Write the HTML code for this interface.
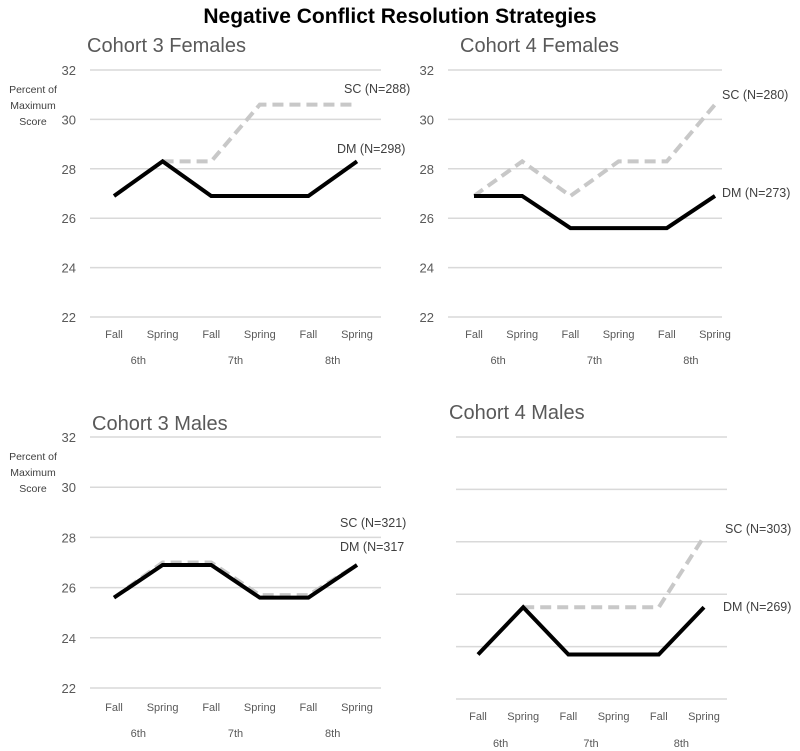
<!DOCTYPE html>
<html><head><meta charset="utf-8"><style>
body{margin:0;background:#fff;}
svg{display:block;font-family:"Liberation Sans",sans-serif;}
</style></head><body>
<svg id="c" width="800" height="751" viewBox="0 0 800 751">
<text x="400" y="23" text-anchor="middle" font-size="21" font-weight="bold" fill="#000">Negative Conflict Resolution Strategies</text>
</svg>
<script>
const terms = ["Fall","Spring","Fall","Spring","Fall","Spring"];
const grades = ["6th","7th","8th"];
const yTicks = [22,24,26,28,30,32];
const c3fDM = [26.9,28.3,26.9,26.9,26.9,28.3];
const c3fSC = [26.9,28.3,28.3,30.6,30.6,30.6];
const c4fDM = [26.9,26.9,25.6,25.6,25.6,26.9];
const c4fSC = [26.9,28.3,26.9,28.3,28.3,30.6];
const c3mDM = [25.6,26.9,26.9,25.6,25.6,26.9];
const c3mSC = [25.6,27.0,27.0,25.7,25.7,26.9];
const c4mDM = [23.7,25.5,23.7,23.7,23.7,25.5];
const c4mSC = [23.7,25.5,25.5,25.5,25.5,28.2];

const NS="http://www.w3.org/2000/svg";
const svg=document.getElementById('c');
function mk(tag,attrs,parent){const e=document.createElementNS(NS,tag);for(const k in attrs)e.setAttribute(k,attrs[k]);(parent||svg).appendChild(e);return e;}

const panels=[
 {key:"c3f",title:"Cohort 3 Females",tx:87,ty:52,gx0:90,gx1:381,y32:70,y22:317,x0:114,dx:48.6,ticks:true,yl:true,dm:c3fDM,sc:c3fSC,scL:"SC (N=288)",dmL:"DM (N=298)",scLx:344,scLy:93,dmLx:337,dmLy:153,xly:338,gly:364,scFrom:1},
 {key:"c4f",title:"Cohort 4 Females",tx:460,ty:52,gx0:448,gx1:722,y32:70,y22:317,x0:474,dx:48.2,ticks:true,yl:false,dm:c4fDM,sc:c4fSC,scL:"SC (N=280)",dmL:"DM (N=273)",scLx:722,scLy:99,dmLx:722,dmLy:197,xly:338,gly:364,scFrom:0},
 {key:"c3m",title:"Cohort 3 Males",tx:92,ty:430,gx0:90,gx1:381,y32:437,y22:688,x0:114,dx:48.6,ticks:true,yl:true,dm:c3mDM,sc:c3mSC,scL:"SC (N=321)",dmL:"DM (N=317",scLx:340,scLy:527,dmLx:340,dmLy:551,xly:711,gly:737,scFrom:0},
 {key:"c4m",title:"Cohort 4 Males",tx:449,ty:419,gx0:456,gx1:727,y32:437,y22:699,x0:478,dx:45.2,ticks:false,yl:false,dm:c4mDM,sc:c4mSC,scL:"SC (N=303)",dmL:"DM (N=269)",scLx:725,scLy:533,dmLx:723,dmLy:611,xly:720,gly:747,scFrom:1}
];

panels.forEach(p=>{
 const g=mk('g',{});
 
 
 const y=v=>p.y22+(v-22)*(p.y32-p.y22)/10;
 const x=i=>p.x0+i*p.dx;
 const t=mk('text',{x:p.tx,y:p.ty,'font-size':20,fill:'#595959'},g);t.textContent=p.title;
 
 
 yTicks.forEach(v=>{
  const l=mk('line',{x1:p.gx0,x2:p.gx1,y1:y(v),y2:y(v),stroke:'#d9d9d9','stroke-width':1.5},g);
  
  
  if(p.ticks){const tt=mk('text',{x:p.gx0-14,y:y(v)+5,'text-anchor':'end','font-size':13,fill:'#595959'},g);tt.textContent=v;
   
   }
 });
 if(p.yl){["Percent of","Maximum","Score"].forEach((s,i)=>{const tt=mk('text',{x:33,y:p.y32+23+i*16,'text-anchor':'middle','font-size':10.5,fill:'#404040'},g);tt.textContent=s;
   
   });}
 terms.forEach((s,i)=>{const tt=mk('text',{x:x(i),y:p.xly,'text-anchor':'middle','font-size':11,fill:'#595959'},g);tt.textContent=s;
  
  });
 grades.forEach((s,i)=>{const tt=mk('text',{x:(x(2*i)+x(2*i+1))/2,y:p.gly,'text-anchor':'middle','font-size':11,fill:'#595959'},g);tt.textContent=s;
  
  });
 const scPts=p.sc.map((v,i)=>x(i)+','+y(v)).slice(p.scFrom).join(' ');
 const sc=mk('polyline',{points:scPts,fill:'none',stroke:'#c8c8c8','stroke-width':4,'stroke-dasharray':'11,6'},g);
 
 
 const dm=mk('polyline',{points:p.dm.map((v,i)=>x(i)+','+y(v)).join(' '),fill:'none',stroke:'#000','stroke-width':4},g);
 
 
 const a=mk('text',{x:p.scLx,y:p.scLy,'font-size':12.5,fill:'#404040'},g);a.textContent=p.scL;
 
 
 const b=mk('text',{x:p.dmLx,y:p.dmLy,'font-size':12.5,fill:'#404040'},g);b.textContent=p.dmL;
 
 
});
</script>
</body></html>
